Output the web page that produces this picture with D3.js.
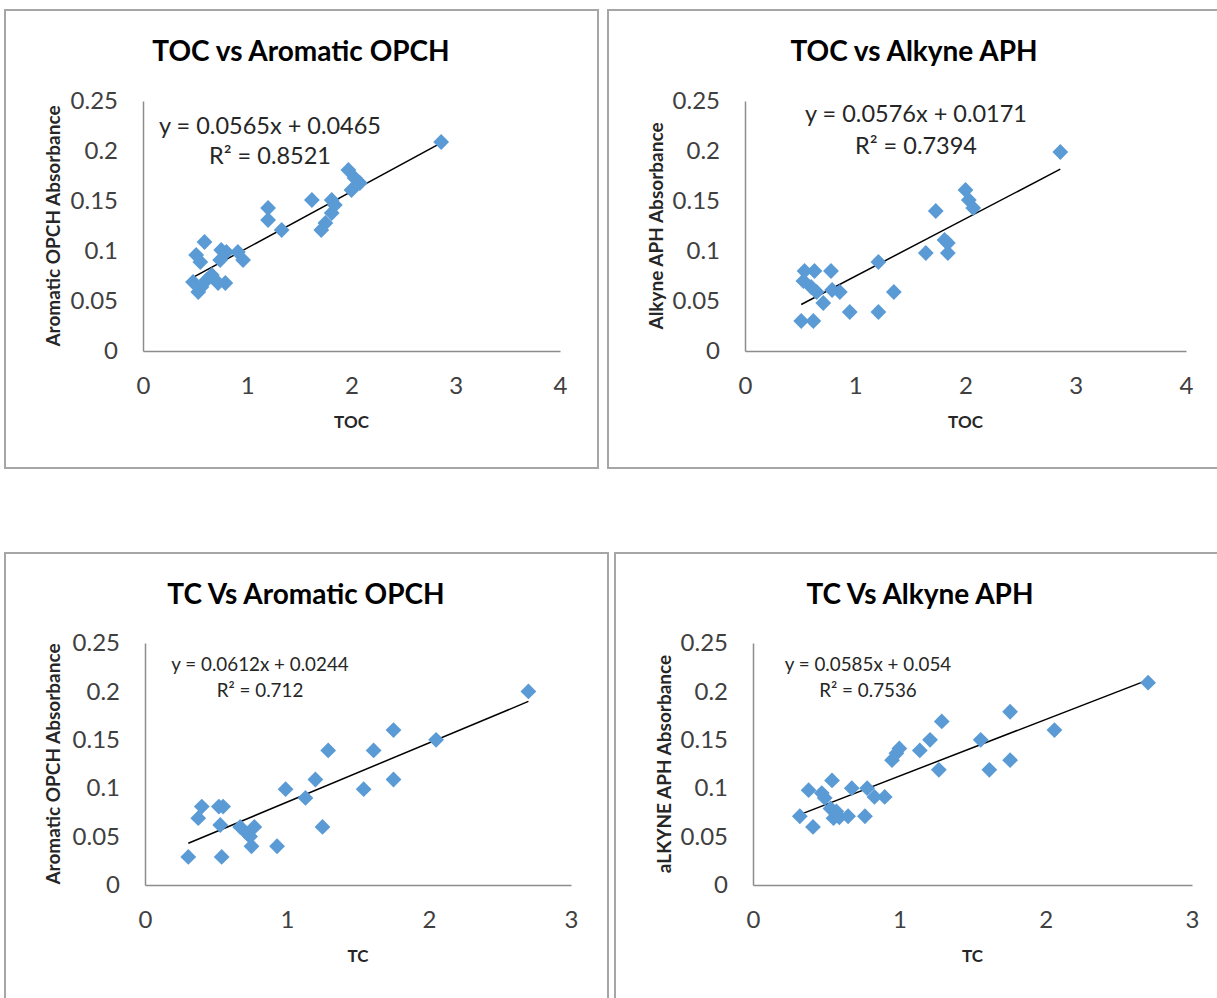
<!DOCTYPE html>
<html>
<head>
<meta charset="utf-8">
<script src="https://cdn.jsdelivr.net/npm/d3@7"></script>
<style>
  body { margin: 0; background: #fff; }
  svg { display: block; }
  text { font-family: Lato, "Open Sans", sans-serif; }
</style>
</head>
<body>
<svg id="chart" width="1217" height="998"></svg>
<script>
// Dados (TOC / TC contra absorbância)
const tocOpchX = [0.51, 0.59, 0.55, 0.75, 0.80, 0.74, 0.96, 0.91, 0.48, 0.53, 0.61, 0.72, 0.79, 0.66, 0.56,
                  1.20, 1.20, 1.33, 1.62, 1.81, 1.84, 1.81, 1.75, 1.71, 1.97, 2.03, 2.08, 2.00, 2.86];
const tocOpchY = [0.096, 0.109, 0.089, 0.101, 0.099, 0.091, 0.091, 0.099, 0.069, 0.059, 0.071, 0.068, 0.068, 0.076, 0.064,
                  0.143, 0.131, 0.121, 0.151, 0.151, 0.146, 0.138, 0.128, 0.121, 0.181, 0.173, 0.168, 0.161, 0.209];

const tocAphX = [0.51, 0.62, 0.54, 0.63, 0.78, 0.53, 0.60, 0.65, 0.71, 0.79, 0.86, 0.95,
                 1.21, 1.21, 1.35, 1.64, 1.73, 1.81, 1.84, 1.84, 2.00, 2.03, 2.07, 2.86];
const tocAphY = [0.030, 0.030, 0.080, 0.080, 0.080, 0.070, 0.064, 0.059, 0.048, 0.061, 0.059, 0.039,
                 0.089, 0.039, 0.059, 0.098, 0.140, 0.111, 0.108, 0.098, 0.161, 0.151, 0.143, 0.199];

const tcOpchX = [0.305, 0.54, 0.375, 0.40, 0.52, 0.55, 0.53, 0.67, 0.72, 0.74, 0.77, 0.75,
                 0.93, 0.99, 1.13, 1.20, 1.25, 1.29, 1.54, 1.61, 1.75, 1.75, 2.05, 2.70];
const tcOpchY = [0.029, 0.029, 0.069, 0.081, 0.081, 0.081, 0.062, 0.060, 0.053, 0.050, 0.060, 0.040,
                 0.040, 0.099, 0.090, 0.109, 0.060, 0.139, 0.099, 0.139, 0.160, 0.109, 0.150, 0.200];

const tcAphX = [0.32, 0.41, 0.38, 0.47, 0.49, 0.54, 0.53, 0.57, 0.55, 0.59, 0.65, 0.765, 0.675, 0.78, 0.83,
                0.90, 0.95, 0.98, 1.00, 1.14, 1.21, 1.29, 1.27, 1.556, 1.615, 1.757, 1.757, 2.06, 2.70];
const tcAphY = [0.071, 0.060, 0.098, 0.095, 0.090, 0.108, 0.079, 0.076, 0.069, 0.070, 0.071, 0.071, 0.100, 0.100, 0.091,
                0.091, 0.129, 0.136, 0.141, 0.139, 0.150, 0.169, 0.119, 0.150, 0.119, 0.179, 0.129, 0.160, 0.209];

const titulos = ["TOC vs Aromatic OPCH", "TOC vs Alkyne APH", "TC Vs Aromatic OPCH", "TC Vs Alkyne APH"];
const titulosX = ["TOC", "TOC", "TC", "TC"];
const titulosY = ["Aromatic OPCH Absorbance", "Alkyne APH Absorbance", "Aromatic OPCH Absorbance", "aLKYNE APH Absorbance"];
const inclinacoes = [0.0565, 0.0576, 0.0612, 0.0585];
const interceptos = ["0.0465", "0.0171", "0.0244", "0.054"];
const r2 = ["0.8521", "0.7394", "0.712", "0.7536"];
const xMax = [4, 4, 3, 3];
const ticksY = [0, 0.05, 0.1, 0.15, 0.2, 0.25];
const ticksX4 = [0, 1, 2, 3, 4];
const ticksX3 = [0, 1, 2, 3];

const series = [
  { x: tocOpchX, y: tocOpchY },
  { x: tocAphX, y: tocAphY },
  { x: tcOpchX, y: tcOpchY },
  { x: tcAphX, y: tcAphY }
];

// Layout de cada painel (moldura, área do gráfico, textos)
const paineis = [
  { frame: [5, 10, 593, 458], plot: { l: 143, r: 560, t: 101, b: 351 }, tituloPos: [301, 50],
    eq: [270, 125, 155], eqSize: 23.5, yTitX: 52, xTitY: 421 },
  { frame: [608, 10, 612, 458], plot: { l: 745, r: 1186, t: 101, b: 351 }, tituloPos: [914, 50],
    eq: [916, 113, 145], eqSize: 23.5, yTitX: 655, xTitY: 421 },
  { frame: [5, 553, 603, 450], plot: { l: 145, r: 571, t: 643, b: 885 }, tituloPos: [306, 593],
    eq: [260, 663, 689], eqSize: 18.8, yTitX: 52, xTitY: 955 },
  { frame: [615, 553, 605, 450], plot: { l: 753, r: 1192, t: 643, b: 885 }, tituloPos: [920, 593],
    eq: [868, 663, 689], eqSize: 18.8, yTitX: 663, xTitY: 955 }
];

const svg = d3.select("#chart");
svg.append("rect").attr("width", 1217).attr("height", 998).attr("fill", "#fff");

paineis.forEach((p, i) => desenharPainel(p, i));

function desenharPainel(p, i) {
  const g = svg.append("g");
  const d = series[i];

  // Moldura
  g.append("rect")
    .attr("x", p.frame[0]).attr("y", p.frame[1])
    .attr("width", p.frame[2]).attr("height", p.frame[3])
    .attr("fill", "#fff")
    .attr("stroke", "#a6a6a6")
    .attr("stroke-width", 2);

  // Escalas
  const x = d3.scaleLinear().domain([0, xMax[i]]).range([p.plot.l, p.plot.r]);
  const y = d3.scaleLinear().domain([0, 0.25]).range([p.plot.b, p.plot.t]);

  // Eixo X
  const eixoX = g.append("g")
    .attr("transform", `translate(0,${p.plot.b})`)
    .call(d3.axisBottom(x).tickValues(xMax[i] === 4 ? ticksX4 : ticksX3)
      .tickSize(0).tickPadding(26).tickFormat(d3.format("d")));

  // Eixo Y
  const eixoY = g.append("g")
    .attr("transform", `translate(${p.plot.l},0)`)
    .call(d3.axisLeft(y).tickValues(ticksY)
      .tickSize(0).tickPadding(25).tickFormat(v => String(v)));

  [eixoX, eixoY].forEach(ax => {
    ax.select(".domain").attr("stroke", "#8c8c8c").attr("stroke-width", 1.5);
    ax.selectAll("text")
      .attr("fill", "#404040")
      .style("font-size", "24px")
      .style("font-family", "Lato, sans-serif");
  });

  // Linha de tendência (equação do gráfico)
  const x0 = d3.min(d.x), x1 = d3.max(d.x);
  const b = +interceptos[i];
  const linha = d3.line().x(v => x(v)).y(v => y(inclinacoes[i] * v + b));
  g.append("path")
    .datum([x0, x1])
    .attr("fill", "none")
    .attr("stroke", "#000")
    .attr("stroke-width", 1.5)
    .attr("d", linha);

  // Pontos em losango
  const pontos = d.x.map((v, k) => [v, d.y[k]]);
  g.selectAll("path.ponto")
    .data(pontos)
    .join("path")
    .attr("class", "ponto")
    .attr("d", d3.symbol().type(d3.symbolSquare).size(125))
    .attr("transform", v => `translate(${x(v[0])},${y(v[1])}) rotate(45)`)
    .attr("fill", "#5b9bd5");

  // Título
  g.append("text")
    .attr("x", p.tituloPos[0]).attr("y", p.tituloPos[1])
    .attr("text-anchor", "middle")
    .attr("dominant-baseline", "central")
    .style("font-size", "28px")
    .style("font-weight", "bold")
    .attr("fill", "#000")
    .text(titulos[i]);

  // Equação e R²
  g.append("text")
    .attr("x", p.eq[0]).attr("y", p.eq[1])
    .attr("text-anchor", "middle")
    .attr("dominant-baseline", "central")
    .style("font-size", p.eqSize + "px")
    .attr("fill", "#262626")
    .text(`y = ${inclinacoes[i]}x + ${interceptos[i]}`);

  g.append("text")
    .attr("x", p.eq[0]).attr("y", p.eq[2])
    .attr("text-anchor", "middle")
    .attr("dominant-baseline", "central")
    .style("font-size", p.eqSize + "px")
    .attr("fill", "#262626")
    .text(`R² = ${r2[i]}`);

  // Títulos dos eixos
  g.append("text")
    .attr("x", (p.plot.l + p.plot.r) / 2).attr("y", p.xTitY)
    .attr("text-anchor", "middle")
    .attr("dominant-baseline", "central")
    .style("font-size", "17px")
    .style("font-weight", "bold")
    .attr("fill", "#262626")
    .text(titulosX[i]);

  const cy = (p.plot.t + p.plot.b) / 2;
  g.append("text")
    .attr("transform", `translate(${p.yTitX},${cy}) rotate(-90)`)
    .attr("text-anchor", "middle")
    .attr("dominant-baseline", "central")
    .style("font-size", "19px")
    .style("font-weight", "bold")
    .attr("fill", "#262626")
    .text(titulosY[i]);
}
</script>
</body>
</html>
